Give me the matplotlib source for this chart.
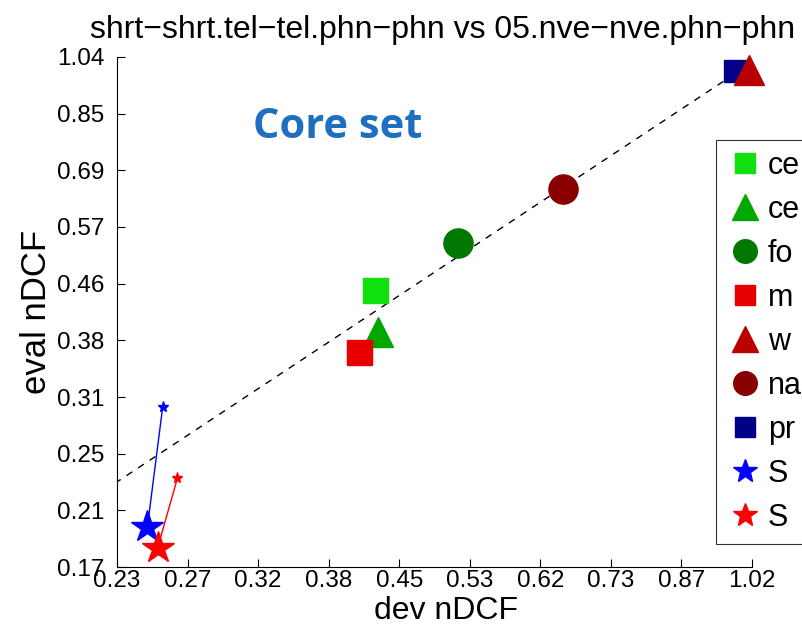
import matplotlib
matplotlib.use("Agg")
import matplotlib.pyplot as plt
import numpy as np

plt.rcParams['font.family'] = ['Liberation Sans', 'DejaVu Sans']

# system scores (dev nDCF, eval nDCF)
names = ['ce', 'ce', 'fo', 'm', 'w', 'na', 'pr']
dev_vals = [0.421, 0.424, 0.512, 0.406, 1.012, 0.655, 0.980]
eval_vals = [0.455, 0.392, 0.537, 0.365, 0.993, 0.651, 0.990]
markers = ['s', '^', 'o', 's', '^', 'o', 's']
colors = ['#10E010', '#00A800', '#007800', '#E80000', '#B80000', '#880000', '#000088']
sizes = [18, 21, 21, 18, 21, 21, 16]

# star systems: big star = final point, small star = start point
star_names = ['S', 'S']
star_dev = [[0.247, 0.256], [0.253, 0.265]]
star_eval = [[0.196, 0.300], [0.182, 0.233]]
star_colors = ['#0000FF', '#FF0000']

xlim = (0.23, 1.02)
ylim = (0.17, 1.04)
xtick_labels = ['0.23', '0.27', '0.32', '0.38', '0.45', '0.53', '0.62', '0.73', '0.87', '1.02']
ytick_labels = ['0.17', '0.21', '0.25', '0.31', '0.38', '0.46', '0.57', '0.69', '0.85', '1.04']

fig = plt.figure(figsize=(8.02, 6.31), dpi=100)
ax = fig.add_axes([0.1459, 0.1014, 0.7918, 0.8083])
ax.set_xscale('log')
ax.set_yscale('log')

diag = np.array([0.17, 1.04])
ax.plot(diag, diag, 'k--', lw=1.0, dashes=(5, 5), zorder=1)

handles = []
order = [0, 1, 2, 3, 6, 4, 5]
for i in order:
    h, = ax.plot(dev_vals[i], eval_vals[i], marker=markers[i], ls='none',
                 ms=sizes[i], color=colors[i], mec=colors[i], clip_on=False,
                 zorder=3, label=names[i])
    handles.append((i, h))
handles = [h for i, h in sorted(handles)]

for dv, ev, c, n in zip(star_dev, star_eval, star_colors, star_names):
    ax.plot(dv, ev, color=c, lw=1.0, zorder=2, clip_on=False)
    ax.plot(dv[1], ev[1], marker='*', ms=8, color=c, ls='none', zorder=3, clip_on=False)
    h, = ax.plot(dv[0], ev[0], marker='*', ms=24, color=c, ls='none',
                 zorder=4, clip_on=False, label=n)
    handles.append(h)

ax.set_xlim(xlim)
ax.set_ylim(ylim)
ax.set_xticks(np.geomspace(*xlim, len(xtick_labels)))
ax.set_xticklabels(xtick_labels)
ax.set_yticks(np.geomspace(*ylim, len(ytick_labels)))
ax.set_yticklabels(ytick_labels)
ax.minorticks_off()
ax.tick_params(direction='in', length=6, width=0.8, labelsize=17.5)
ax.tick_params(axis='x', pad=2)
ax.tick_params(axis='y', pad=9)
ax.spines['top'].set_visible(False)
ax.spines['right'].set_visible(False)

ax.set_xlabel('dev nDCF', fontsize=23, labelpad=3, x=0.518)
ax.set_ylabel('eval nDCF', fontsize=25, labelpad=3)
ax.set_title('shrt\u2212shrt.tel\u2212tel.phn\u2212phn vs 05.nve\u2212nve.phn\u2212phn',
             fontsize=23, pad=14, x=0.513)

ax.text(0.348, 0.862, 'Core set', transform=ax.transAxes, fontsize=30,
        fontweight='bold', color='#1F6FC0', family='Open Sans', ha='center', va='center')

leg = ax.legend(handles=handles, loc='upper left',
                bbox_to_anchor=(716 / 802, 1 - 140 / 631, 0.2, 0.0),
                bbox_transform=fig.transFigure, mode='expand', borderaxespad=0,
                fontsize=22, frameon=True, fancybox=False, edgecolor='black',
                borderpad=0.35, labelspacing=0.46, handlelength=1.2, handletextpad=0.15)
leg.get_frame().set_linewidth(0.8)
for lh, m in zip(leg.legend_handles, markers + ['*', '*']):
    lh.set_markersize({'s': 15, '^': 19, 'o': 17, '*': 18}[m])

fig.savefig('out.png', dpi=100)
